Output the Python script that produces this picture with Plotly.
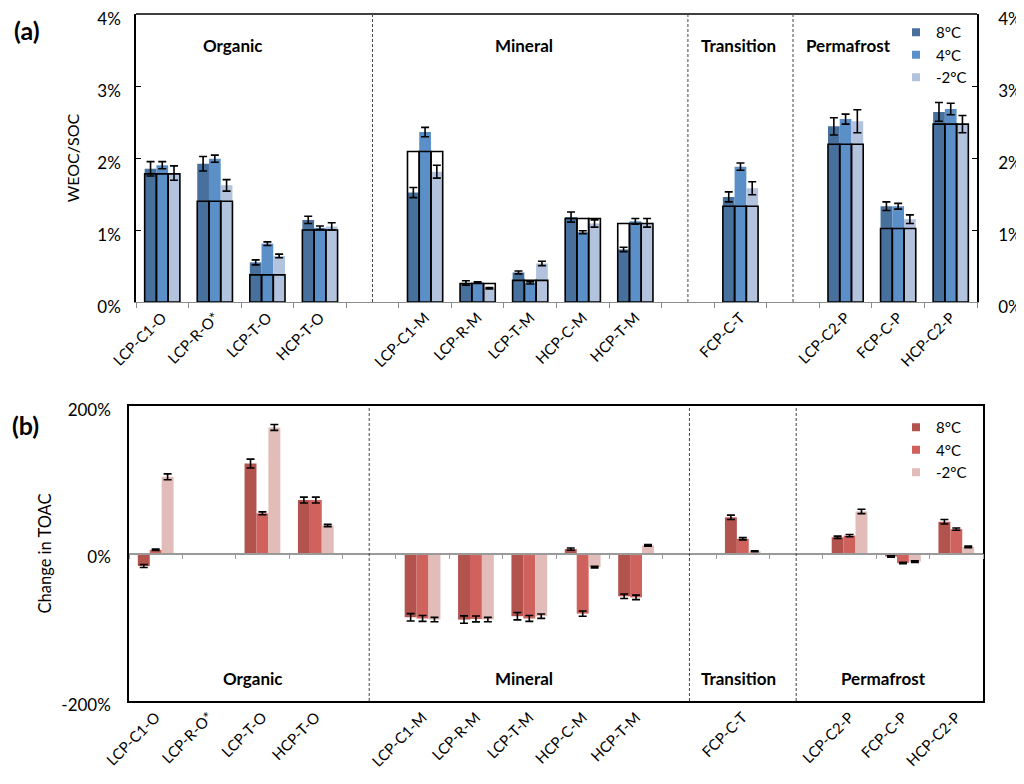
import plotly.graph_objects as go

# ---------------- data ----------------
categories = ["LCP-C1-O", "LCP-R-O*", "LCP-T-O", "HCP-T-O", " ",
              "LCP-C1-M", "LCP-R-M", "LCP-T-M", "HCP-C-M", "HCP-T-M", "  ",
              "FCP-C-T", "   ",
              "LCP-C2-P", "FCP-C-P", "HCP-C2-P"]
temps = ["8°C", "4°C", "-2°C"]

# Panel (a): WEOC/SOC (%)
weoc_8 = [1.85, 1.92, 0.55, 1.14, None, 1.52, 0.265, 0.41, 1.18, 0.73, None, 1.46, None, 2.44, 1.33, 2.64]
weoc_8_err = [0.10, 0.10, 0.035, 0.05, None, 0.07, 0.03, 0.02, 0.07, 0.03, None, 0.07, None, 0.12, 0.06, 0.13]
weoc_4 = [1.90, 1.99, 0.81, 1.03, None, 2.36, 0.27, 0.265, 0.97, 1.12, None, 1.88, None, 2.54, 1.33, 2.68]
weoc_4_err = [0.05, 0.05, 0.025, 0.025, None, 0.065, 0.01, 0.015, 0.02, 0.04, None, 0.05, None, 0.07, 0.04, 0.08]
weoc_m2 = [1.79, 1.62, 0.64, 1.05, None, 1.81, 0.19, 0.535, 1.09, 1.10, None, 1.58, None, 2.51, 1.15, 2.47]
weoc_m2_err = [0.10, 0.08, 0.025, 0.05, None, 0.09, 0.01, 0.03, 0.05, 0.06, None, 0.09, None, 0.16, 0.06, 0.12]
weoc_initial = [1.78, 1.40, 0.377, 1.00, None, 2.09, 0.256, 0.30, 1.16, 1.09, None, 1.33, None, 2.19, 1.02, 2.47]
weoc_ticks = [0, 1, 2, 3, 4]
weoc_ticktext = ["0%", "1%", "2%", "3%", "4%"]

# Panel (b): change in TOAC (%)
toac_8 = [-17, None, 122, 72.5, None, -86.5, -89.6, -85, 6, -58, None, 49, None, 22, -4, 43]
toac_8_err = [2, None, 6, 4, None, 5, 5, 5, 1.5, 3, None, 3, None, 1.5, 1, 3]
toac_4 = [5, None, 54.5, 72.5, None, -88, -88.7, -88, -81.5, -59.5, None, 20, None, 24.3, -13, 33]
toac_4_err = [1, None, 2, 4, None, 4, 4, 4, 3.5, 3, None, 1.5, None, 1.5, 1, 1.5]
toac_m2 = [104, None, 171, 38, None, -89.6, -89.6, -85, -18.5, 11, None, 3, None, 57, -11, 9]
toac_m2_err = [4, None, 4, 1.5, None, 3, 3, 3, 1, 1, None, 0.5, None, 3, 1, 1]
toac_ticks = [-200, 0, 200]
toac_ticktext = ["-200%", "0%", "200%"]

group_labels = ["Organic", "Mineral", "Transition", "Permafrost"]
spacers = [" ", "  ", "   "]

blue_colors = ["#48709d", "#5a8fc8", "#b3c2dd"]
red_colors = ["#b2534e", "#cf625d", "#e2bcb8"]

FONT = "Lato, 'Open Sans', sans-serif"
W, H, OFF = 1024, 784, 8  # page body margin offset


def px(X):
    return (X - OFF) / W


def py(Y):
    return 1 - (Y - OFF) / H


fig = go.Figure()

weoc_series = [(weoc_8, weoc_8_err), (weoc_4, weoc_4_err), (weoc_m2, weoc_m2_err)]
for i, (vals, errs) in enumerate(weoc_series):
    fig.add_trace(go.Bar(
        x=categories, y=vals, name=temps[i], offsetgroup=str(i), showlegend=False,
        marker=dict(color=blue_colors[i], line=dict(width=0)),
        error_y=dict(type="data", array=errs, color="black", thickness=1.6, width=4),
        xaxis="x", yaxis="y"))
for i in range(3):
    fig.add_trace(go.Bar(
        x=categories, y=weoc_initial, offsetgroup=str(i), showlegend=False,
        marker=dict(color="rgba(0,0,0,0)", line=dict(color="black", width=1.6)),
        xaxis="x", yaxis="y", hoverinfo="skip"))
# legend entries (a)
for i in range(3):
    fig.add_trace(go.Scatter(x=[None], y=[None], mode="markers", name=temps[i],
                             marker=dict(symbol="square", size=8, color=blue_colors[i]),
                             xaxis="x", yaxis="y", legend="legend"))
# helper trace for right axis of panel (a)
fig.add_trace(go.Scatter(x=categories, y=[None] * len(categories), xaxis="x", yaxis="y3",
                         showlegend=False, hoverinfo="skip"))

toac_series = [(toac_8, toac_8_err), (toac_4, toac_4_err), (toac_m2, toac_m2_err)]
for i, (vals, errs) in enumerate(toac_series):
    fig.add_trace(go.Bar(
        x=categories, y=vals, name=temps[i], offsetgroup=str(i), showlegend=False,
        marker=dict(color=red_colors[i], line=dict(width=0)),
        error_y=dict(type="data", array=errs, color="black", thickness=1.6, width=4),
        xaxis="x2", yaxis="y2"))
for i in range(3):
    fig.add_trace(go.Scatter(x=[None], y=[None], mode="markers", name=temps[i],
                             marker=dict(symbol="square", size=8, color=red_colors[i]),
                             xaxis="x2", yaxis="y2", legend="legend2"))
# helper trace for zero-line axis of panel (b)
fig.add_trace(go.Scatter(x=categories, y=[None] * len(categories), xaxis="x3", yaxis="y2",
                         showlegend=False, hoverinfo="skip"))

ya_dom = [py(302), py(14)]
yb_dom = [py(701), py(406)]
xa_dom = [px(136), px(977)]
xb_dom = [px(129), px(983)]

cat_axis = dict(type="category", categoryorder="array", categoryarray=categories,
                range=[-0.5, len(categories) - 0.5], showgrid=False, zeroline=False,
                automargin=False,
                tickangle=-45, tickfont=dict(size=15, color="black", family=FONT))

fig.update_layout(
    width=W, height=H, margin=dict(l=0, r=0, t=0, b=0, autoexpand=False),
    plot_bgcolor="white", paper_bgcolor="white",
    font=dict(family=FONT, color="black"),
    barmode="group", bargap=0.33, bargroupgap=0.0,
    xaxis=dict(cat_axis, domain=xa_dom, anchor="y", tickson="boundaries",
               ticks="outside", ticklen=5, tickcolor="#8c8c8c", tickwidth=1,
               showline=True, linecolor="#8c8c8c", linewidth=1.2),
    yaxis=dict(domain=ya_dom, anchor="x", range=[0, 4], tickvals=weoc_ticks,
               ticktext=weoc_ticktext, automargin=False, ticklabeloverflow="allow",
               ticklabelshift=5,
               ticks="inside", ticklen=5, tickcolor="black", showline=True, linecolor="black",
               linewidth=1.5, showgrid=False, zeroline=False, ticklabelstandoff=10,
               tickfont=dict(size=17),
               title=dict(text="WEOC/SOC", font=dict(size=16), standoff=14)),
    yaxis3=dict(overlaying="y", side="right", anchor="x", range=[0, 4], tickvals=weoc_ticks,
                ticktext=weoc_ticktext, automargin=False, ticklabeloverflow="allow",
                ticklabelshift=5,
                ticks="inside", ticklen=5, tickcolor="black",
                showline=True, linecolor="black", linewidth=1.5, showgrid=False,
                zeroline=False, ticklabelstandoff=16, tickfont=dict(size=17)),
    xaxis2=dict(cat_axis, domain=xb_dom, anchor="y2", ticks="",
                showline=True, linecolor="black", linewidth=1.5, mirror=True),
    yaxis2=dict(domain=yb_dom, anchor="x2", range=[-200, 200], tickvals=toac_ticks,
                ticktext=toac_ticktext, automargin=False, ticklabeloverflow="allow",
                ticklabelshift=4,
                ticks="", showline=True, linecolor="black", linewidth=1.5,
                mirror=True, showgrid=False, zeroline=False, ticklabelstandoff=13,
                tickfont=dict(size=17),
                title=dict(text="Change in TOAC", font=dict(size=16.5), standoff=6)),
    xaxis3=dict(type="category", categoryorder="array", categoryarray=categories,
                range=[-0.5, len(categories) - 0.5], overlaying="x2", anchor="free",
                position=(yb_dom[0] + yb_dom[1]) / 2, showticklabels=False, automargin=False,
                tickson="boundaries", ticks="outside", ticklen=5, tickcolor="#9a9a9a",
                showline=True, linecolor="#9a9a9a", linewidth=1.5, showgrid=False,
                zeroline=False),
    legend=dict(x=px(896), y=py(16), xanchor="left", yanchor="top",
                font=dict(size=15), bgcolor="rgba(0,0,0,0)", tracegroupgap=0,
                itemwidth=30, traceorder="normal"),
    legend2=dict(x=px(896), y=py(411), xanchor="left", yanchor="top",
                 font=dict(size=15), bgcolor="rgba(0,0,0,0)", tracegroupgap=0,
                 itemwidth=30, traceorder="normal"),
)

shapes = []
# top border of panel (a)
shapes.append(dict(type="line", xref="x domain", yref="y domain", x0=0, x1=1, y0=1, y1=1,
                   line=dict(color="black", width=1.5)))
for s in spacers:
    shapes.append(dict(type="line", xref="x", yref="y domain", x0=s, x1=s, y0=0, y1=1,
                       line=dict(color="#444444", width=1, dash="3px,2px")))
    shapes.append(dict(type="line", xref="x2", yref="y2 domain", x0=s, x1=s, y0=0, y1=1,
                       line=dict(color="#444444", width=1, dash="3px,2px")))
fig.update_layout(shapes=shapes)

ann = []
ann.append(dict(text="<b>(a)</b>", x=px(12), y=py(30), xref="paper", yref="paper",
                xanchor="left", yanchor="middle", showarrow=False, font=dict(size=25)))
ann.append(dict(text="<b>(b)</b>", x=px(10), y=py(425), xref="paper", yref="paper",
                xanchor="left", yanchor="middle", showarrow=False, font=dict(size=25)))
a_pos = [233, 524, 738, 848]
b_pos = [253, 524, 738, 883]
for lbl, xa, xb in zip(group_labels, a_pos, b_pos):
    ann.append(dict(text=f"<b>{lbl}</b>", x=px(xa), y=py(46), xref="paper", yref="paper",
                    showarrow=False, font=dict(size=17), xanchor="center", yanchor="middle"))
    ann.append(dict(text=f"<b>{lbl}</b>", x=px(xb), y=py(678), xref="paper", yref="paper",
                    showarrow=False, font=dict(size=17), xanchor="center", yanchor="middle"))
fig.update_layout(annotations=ann)

fig.write_html("out.html")
